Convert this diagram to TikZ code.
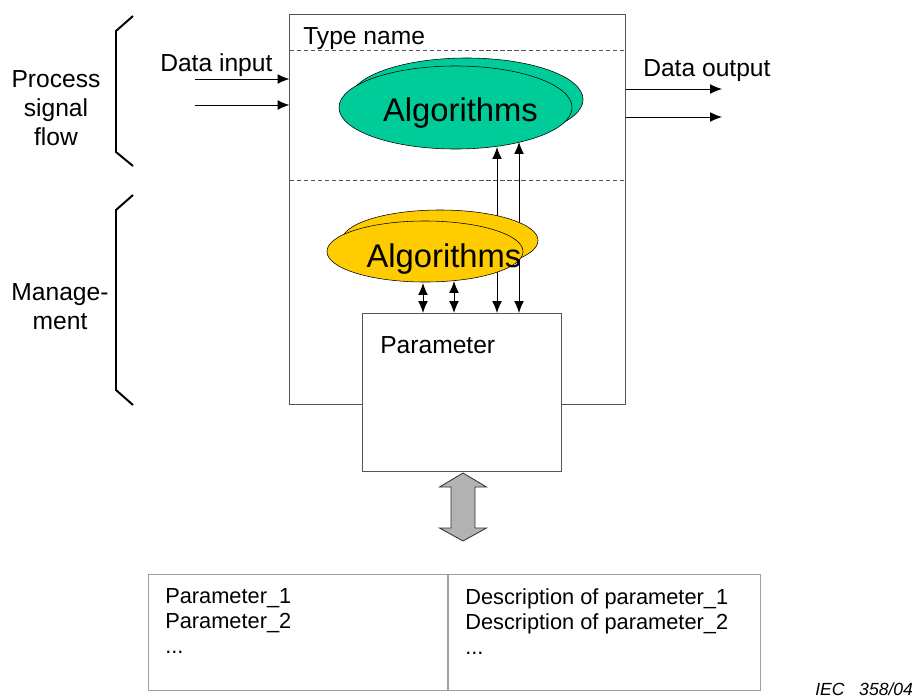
\documentclass[tikz,border=0pt]{standalone}
\usepackage{fontspec}
\setmainfont{Liberation Sans}
\usetikzlibrary{shapes.geometric,arrows.meta}
\definecolor{algogreen}{RGB}{0,204,153}
\definecolor{algoyellow}{RGB}{255,204,0}
\definecolor{linegray}{RGB}{85,85,85}
\definecolor{tablegray}{RGB}{160,160,160}
\definecolor{arrowgray}{RGB}{178,178,178}
\tikzstyle{block}=[draw=linegray, line width=.7pt, inner sep=0pt]
\tikzstyle{algo green}=[ellipse, draw, fill=algogreen, inner sep=0pt, minimum width=5.825cm, minimum height=2.075cm]
\tikzstyle{algo yellow}=[ellipse, draw, fill=algoyellow, inner sep=0pt, minimum width=4.9cm, minimum height=1.525cm]
\tikzstyle{big text}=[font=\fontsize{23.3}{28}\selectfont, inner sep=0pt, anchor=base]
\tikzstyle{plain text}=[font=\fontsize{17.5}{20.6}\selectfont, inner sep=0pt]
\tikzstyle{table text}=[font=\fontsize{15.5}{17.8}\selectfont, inner sep=0pt, align=left, anchor=north west]
\tikzstyle{signal}=[->, line width=.7pt]
\tikzstyle{exchange}=[<->, line width=.7pt]
\tikzstyle{sep line}=[draw=linegray, line width=.7pt, dash pattern=on 3pt off 2pt]
\tikzstyle{side brace}=[line width=1.4pt]

\begin{document}
\begin{tikzpicture}[>={Latex[length=8.5pt,width=7pt]}, x=0.025cm, y=-0.025cm]
    \useasboundingbox (0,0) rectangle (919,698);

    % Function block
    \node[block, minimum width=8.375cm, minimum height=9.725cm] (main) at (457.5,209.5) {};
    \draw[sep line] (main.west |- 0,50) -- (main.east |- 0,50);
    \draw[sep line] (main.west |- 0,180) -- (main.east |- 0,180);
    \node[plain text, anchor=base west] (type) at (303,44) {Type name};

    % Links to parameters
    \coordinate (ga) at (497,147);
    \coordinate (gb) at (519,142);
    \coordinate (ya) at (423,283);
    \coordinate (yb) at (454,281);
    \draw[exchange] (ga |- 0,313) -- (ga);
    \draw[exchange] (gb |- 0,313) -- (gb);

    % Algorithms
    \node[algo green] (green back) at (466.5,99.5) {};
    \node[algo green] (green front) at (455.5,107.5) {};
    \node[big text] (green text) at (460.5,121.5) {Algorithms};
    \node[algo yellow] (yellow back) at (440,240.5) {};
    \node[algo yellow] (yellow front) at (425,251.5) {};
    \node[big text] (yellow text) at (444,267) {Algorithms};

    % Parameter
    \node[block, fill=white, minimum width=4.95cm, minimum height=3.95cm] (param) at (462,392.5) {};
    \node[plain text, anchor=base west] (param text) at (380,353) {Parameter};
    \draw[exchange] (ya |- param.north) -- (ya);
    \draw[exchange] (yb |- param.north) -- (yb);

    % Data in and out
    \node[plain text, anchor=base west] (in text) at (160,71) {Data input};
    \coordinate (in a) at (195,79);
    \coordinate (in b) at (195,105);
    \draw[signal] (in a) -- (in a -| main.west);
    \draw[signal] (in b) -- (in b -| main.west);
    \node[plain text, anchor=base west] (out text) at (643,76) {Data output};
    \coordinate (out a) at (722,89);
    \coordinate (out b) at (722,117);
    \draw[signal] (out a -| main.east) -- (out a);
    \draw[signal] (out b -| main.east) -- (out b);

    % Braces
    \draw[side brace] (133,16) -- (116,31) -- (116,152) -- (133,166);
    \draw[side brace] (133,195) -- (116,210) -- (116,390) -- (133,405);
    \node[plain text, align=center] (flow) at (56,108) {Process\\signal\\flow};
    \node[plain text, align=center] (manage) at (60,307) {Manage-\\ment};

    % Access
    \draw[fill=arrowgray, draw=black!80, line width=.6pt] (463,473) -- (486.5,487) -- (475,487) -- (475,528) -- (486.5,528) -- (463,541)
        -- (439.5,528) -- (451,528) -- (451,487) -- (439.5,487) -- cycle;

    % Parameter list
    \node[draw=tablegray, line width=.7pt, minimum width=7.475cm, minimum height=2.9cm] (cell left) at (298.5,632) {};
    \node[draw=tablegray, line width=.7pt, minimum width=7.8cm, minimum height=2.9cm] (cell right) at (604,632) {};
    \node[table text] (names) at (165,588) {Parameter\_1\\Parameter\_2\\...};
    \node[table text] (descr) at (465,588) {Description of parameter\_1\\Description of parameter\_2\\...};

    \node[font=\fontsize{12.5}{15}\selectfont\itshape, inner sep=0pt, anchor=base west] (iec) at (815,695) {IEC~~~358/04};
\end{tikzpicture}
\end{document}
